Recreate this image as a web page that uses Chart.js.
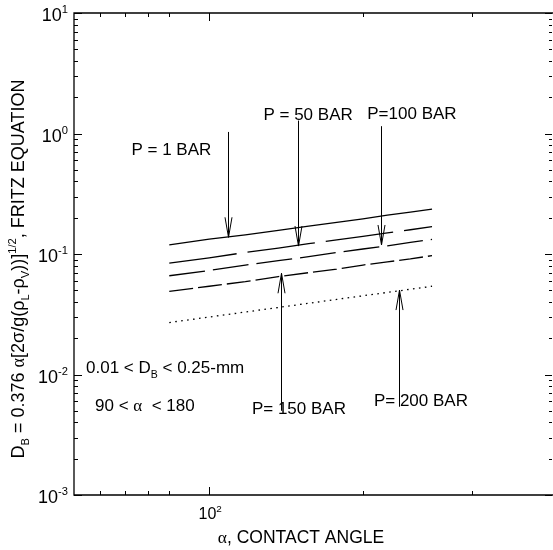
<!DOCTYPE html>
<html>
<head>
<meta charset="utf-8">
<script src="https://cdn.jsdelivr.net/npm/chart.js@4.4.0/dist/chart.umd.min.js"></script>
<style>
    html, body { margin: 0; padding: 0; background: #ffffff; }
    #wrap { width: 553px; height: 550px; }
</style>
</head>
<body>
<div id="wrap"><canvas id="fritzchart" width="553" height="550"></canvas></div>
<script>
// Data block
// Contact angle, degrees
const contactAngles = [90, 100, 110, 120, 130, 140, 150, 160, 170, 180];
// Bubble departure diameter, mm
const p1Values   = [0.119, 0.133, 0.144, 0.157, 0.170, 0.183, 0.196, 0.210, 0.223, 0.236];
const p50Values  = [0.084, 0.093, 0.103, 0.112, 0.122, 0.131, 0.140, 0.150, 0.159, 0.169];
const p100Values = [0.066, 0.073, 0.081, 0.088, 0.095, 0.103, 0.110, 0.117, 0.125, 0.132];
const p150Values = [0.049, 0.054, 0.059, 0.065, 0.070, 0.075, 0.081, 0.086, 0.091, 0.097];
const p200Values = [0.027, 0.030, 0.033, 0.036, 0.039, 0.042, 0.045, 0.048, 0.051, 0.054];

// Tick values
const xMinorTicks = [75, 80, 85, 90, 150, 200];
const xMajorTicks = [100];
const xTickLabels = ['2'];          // exponent for 10^2
const yMajorTicks = [0.001, 0.01, 0.1, 1, 10];
const yTickLabels = ['-3', '-2', '-1', '0', '1'];
const yMinorMultipliers = [2, 3, 4, 5, 6, 7, 8, 9];

// Pressure arrows: angle, start and tip of arrow
const arrowAngles = [105.0, 126.3, 157.3, 120.7, 164.8];
const arrowStarts = [1.03, 1.28, 1.15, 0.0050, 0.0054];
const arrowTips   = [0.1376, 0.1164, 0.1188, 0.0692, 0.0502];

// Pressure labels: text and centre position (angle, diameter)
const pressureLabels = ['P = 1 BAR', 'P = 50 BAR', 'P=100 BAR', 'P= 150 BAR', 'P= 200 BAR'];
const pressureLabelAngles = [90.5, 129.8, 170.7, 126.7, 174.8];
const pressureLabelValues = [0.744, 1.45, 1.48, 0.0053, 0.0061];

const sansFont = '"Liberation Sans", Arial, Helvetica, sans-serif';
const serifFont = '"Liberation Serif", "Times New Roman", serif';

// Build {x, y} pairs for a series
function toPoints(values) {
    return contactAngles.map((a, i) => ({x: a, y: values[i]}));
}

// Draw a run of text parts: [text, 'sub'|'sup'|'', serif]
function drawRich(ctx, parts, x, y, size, align) {
    let total = 0;
    const runs = parts.map(p => {
        const s = p[1] ? size * 0.62 : size;
        const font = s + 'px ' + (p[2] ? serifFont : sansFont);
        ctx.font = font;
        const w = ctx.measureText(p[0]).width;
        total += w;
        return {text: p[0], kind: p[1], font: font, w: w};
    });
    let cx = x;
    if (align === 'center') cx = x - total / 2;
    if (align === 'right') cx = x - total;
    ctx.textAlign = 'left';
    ctx.textBaseline = 'alphabetic';
    runs.forEach(r => {
        ctx.font = r.font;
        let dy = 0;
        if (r.kind === 'sub') dy = size * 0.3;
        if (r.kind === 'sup') dy = -size * 0.42;
        ctx.fillText(r.text, cx, y + dy);
        cx += r.w;
    });
}

// Setup block
const fritzData = {
    datasets: [
        {label: 'P = 1 BAR',   data: toPoints(p1Values),   borderDash: []},
        {label: 'P = 50 BAR',  data: toPoints(p50Values),  borderDash: [68, 11]},
        {label: 'P = 100 BAR', data: toPoints(p100Values), borderDash: [36, 8]},
        {label: 'P = 150 BAR', data: toPoints(p150Values), borderDash: [24, 5]},
        {label: 'P = 200 BAR', data: toPoints(p200Values), borderDash: [1.6, 4.4]}
    ].map(ds => Object.assign(ds, {
        borderColor: '#000000',
        borderWidth: 1.3,
        pointRadius: 0,
        tension: 0,
        fill: false
    }))
};  // End data

// Frame, ticks, texts and arrows plugin block
const fritzDecorations = {
    id: 'fritzDecorations',
    afterDraw(chart) {
        const ctx = chart.ctx;
        const area = chart.chartArea;
        const xs = chart.scales.x;
        const ys = chart.scales.y;
        ctx.save();
        ctx.strokeStyle = '#000000';
        ctx.fillStyle = '#000000';

        // Frame (right edge sits on the picture border)
        ctx.lineWidth = 1.3;
        ctx.beginPath();
        ctx.moveTo(area.right + 2, area.top);
        ctx.lineTo(area.left, area.top);
        ctx.lineTo(area.left, area.bottom);
        ctx.lineTo(area.right + 2, area.bottom);
        ctx.stroke();

        // Y ticks, both sides
        ctx.lineWidth = 1;
        const yTick = (v, lenL, lenR) => {
            const py = Math.round(ys.getPixelForValue(v)) + 0.5;
            ctx.beginPath();
            ctx.moveTo(area.left, py); ctx.lineTo(area.left + lenL, py);
            ctx.moveTo(area.right, py); ctx.lineTo(area.right - lenR, py);
            ctx.stroke();
        };
        yMajorTicks.forEach((v, i) => {
            yTick(v, 8, 7);
            if (i < yMajorTicks.length - 1) {
                yMinorMultipliers.forEach(m => yTick(v * m, 4, 3));
            }
        });

        // X ticks, top and bottom
        const xTick = (v, len) => {
            const px = Math.round(xs.getPixelForValue(v)) + 0.5;
            ctx.beginPath();
            ctx.moveTo(px, area.bottom); ctx.lineTo(px, area.bottom - len);
            ctx.moveTo(px, area.top); ctx.lineTo(px, area.top + len);
            ctx.stroke();
        };
        xMajorTicks.forEach(v => xTick(v, 8));
        xMinorTicks.forEach(v => xTick(v, 4));

        // Tick labels
        yMajorTicks.forEach((v, i) => {
            const py = ys.getPixelForValue(v);
            drawRich(ctx, [['10', ''], [yTickLabels[i], 'sup']], 68, py + 8, 18, 'right');
        });
        xMajorTicks.forEach((v, i) => {
            const px = xs.getPixelForValue(v);
            drawRich(ctx, [['10', ''], [xTickLabels[i], 'sup']], px + 1, area.bottom + 24, 16, 'center');
        });

        // Axis titles
        drawRich(ctx, [['\u03b1', '', true], [', CONTACT ANGLE', '']], 301, 543, 17.5, 'center');
        ctx.save();
        ctx.translate(24, 269);
        ctx.rotate(-Math.PI / 2);
        drawRich(ctx, [
            ['D', ''], ['B', 'sub'], [' = 0.376 ', ''], ['\u03b1', '', true],
            ['[2\u03c3/g(\u03c1', ''], ['L', 'sub'], ['-\u03c1', ''], ['V', 'sub'],
            ['))]', ''], ['1/2', 'sup'], [', FRITZ EQUATION', '']
        ], 0, 0, 18, 'center');
        ctx.restore();

        // Arrows
        ctx.lineWidth = 1;
        arrowAngles.forEach((a, i) => {
            const px = Math.round(xs.getPixelForValue(a)) + 0.5;
            const y0 = ys.getPixelForValue(arrowStarts[i]);
            const y1 = ys.getPixelForValue(arrowTips[i]);
            const dir = y1 > y0 ? -1 : 1;
            ctx.beginPath();
            ctx.moveTo(px, y0); ctx.lineTo(px, y1);
            ctx.moveTo(px - 3.5, y1 + dir * 20); ctx.lineTo(px, y1); ctx.lineTo(px + 3.5, y1 + dir * 20);
            ctx.stroke();
        });

        // Pressure labels
        pressureLabels.forEach((t, i) => {
            const px = xs.getPixelForValue(pressureLabelAngles[i]);
            const py = ys.getPixelForValue(pressureLabelValues[i]);
            drawRich(ctx, [[t, '']], px, py + 6, 17, 'center');
        });

        // Range notes
        drawRich(ctx, [['0.01 < D', ''], ['B', 'sub'], [' < 0.25-mm', '']], 86, 373, 17, 'left');
        drawRich(ctx, [['90 < ', ''], ['\u03b1', '', true], ['  < 180', '']], 95, 411, 17, 'left');

        ctx.restore();
    }
};  // End plugin

// Config block
const fritzConfig = {
    type: 'line',
    data: fritzData,
    options: {
        responsive: false,
        animation: false,
        layout: {
            padding: {left: 74, top: 13, right: 1, bottom: 55}
        },
        plugins: {
            legend: {display: false},
            tooltip: {enabled: false}
        },  // End plugins
        scales: {
            x: {
                type: 'logarithmic',
                min: 70,
                max: 247,
                display: false
            },
            y: {
                type: 'logarithmic',
                min: 0.001,
                max: 10,
                display: false
            }
        }  // End scales
    },  // End options
    plugins: [fritzDecorations]
};  // End config

// render / init block
const fritzChart = new Chart(
    document.getElementById('fritzchart'),
    fritzConfig
);  // End Chart
</script>
</body>
</html>
